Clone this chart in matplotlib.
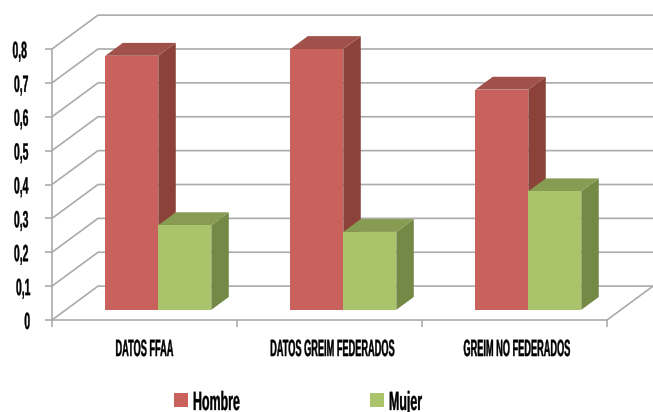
import matplotlib
matplotlib.use('Agg')
import matplotlib.pyplot as plt
from matplotlib.patches import Polygon, Rectangle
from matplotlib.patheffects import AbstractPathEffect
from matplotlib.transforms import Affine2D

categories = ['DATOS FFAA', 'DATOS GREIM FEDERADOS', 'GREIM NO FEDERADOS']
hombre = [0.75, 0.77, 0.65]
mujer = [0.25, 0.23, 0.35]
y_ticks = [0, 0.1, 0.2, 0.3, 0.4, 0.5, 0.6, 0.7, 0.8]
y_labels = ['0', '0,1', '0,2', '0,3', '0,4', '0,5', '0,6', '0,7', '0,8']

RED = ('#C9625D', '#A0524A', '#8C4239')    # front, top, side
GREEN = ('#AAC46B', '#879C52', '#758947')
GRID = '#ABABAB'
FONT = 'Liberation Sans'

# one full step into the chart moves this far right / up, in data units
DEPTH_X = 46 / 185
DEPTH_Y = 0.1
BAR_W = 53 / 185
BAR_D0, BAR_D1 = 0.3, 0.68


class Squeeze(AbstractPathEffect):
    """Narrow a text around a pixel column, with a thin stroke to keep the stems heavy."""
    def __init__(self, anchor, sx, shift=0, stroke=0.25):
        super().__init__()
        self.anchor = anchor
        self.sx = sx
        self.shift = shift
        self.stroke = stroke

    def draw_path(self, renderer, gc, tpath, affine, rgbFace=None):
        squeeze = (Affine2D().translate(-self.anchor, 0).scale(self.sx, 1)
                   .translate(self.anchor + self.shift, 0))
        gc0 = renderer.new_gc()
        gc0.copy_properties(gc)
        gc0.set_linewidth(self.stroke)
        gc0.set_foreground('black')
        renderer.draw_path(gc0, tpath, affine + squeeze, rgbFace)
        gc0.restore()


def proj(x, v, d):
    return (x + d * DEPTH_X, v + d * DEPTH_Y)


def draw_bar(ax, x0, x1, v, colors):
    d0, d1 = BAR_D0, BAR_D1
    side = [proj(x1, 0, d0), proj(x1, 0, d1), proj(x1, v, d1), proj(x1, v, d0)]
    top = [proj(x0, v, d0), proj(x1, v, d0), proj(x1, v, d1), proj(x0, v, d1)]
    front = [proj(x0, 0, d0), proj(x1, 0, d0), proj(x1, v, d0), proj(x0, v, d0)]
    ax.add_patch(Polygon(side, fc=colors[2], ec='none', clip_on=False, zorder=3))
    ax.add_patch(Polygon(top, fc=colors[1], ec='none', clip_on=False, zorder=3))
    ax.add_patch(Polygon(front, fc=colors[0], ec='none', clip_on=False, zorder=3))


W, H = 653, 412
fig = plt.figure(figsize=(W / 100, H / 100), dpi=100)
ax = fig.add_axes([52 / W, (H - 320) / H, 555 / W, 271 / H])
ax.set_xlim(0, 3)
ax.set_ylim(0, 0.8)
ax.patch.set_visible(False)

# side wall and back wall
for v in y_ticks:
    ax.plot(*zip(proj(0, v, 0), proj(0, v, 1), proj(3, v, 1)), color=GRID, lw=1.2,
            clip_on=False, zorder=1, solid_joinstyle='miter')
ax.plot(*zip(proj(3, 0, 0), proj(3, 0, 1)), color=GRID, lw=1.2, clip_on=False, zorder=1)

for i in range(len(categories)):
    mid = i + 0.5
    draw_bar(ax, mid - BAR_W, mid, hombre[i], RED)
    draw_bar(ax, mid, mid + BAR_W, mujer[i], GREEN)

for name in ['top', 'right']:
    ax.spines[name].set_visible(False)
for name in ['left', 'bottom']:
    ax.spines[name].set_color(GRID)
    ax.spines[name].set_linewidth(1.2)

# y labels sit centred on one column so their full text box stays on the canvas
ax.set_yticks(y_ticks)
ax.set_yticklabels(y_labels)
ax.tick_params(axis='y', length=5, width=1.2, color=GRID, pad=17)
nudge = {'0': 6, '0,1': 2, '0,8': -1.5}
for label, text in zip(ax.get_yticklabels(), y_labels):
    label.set(fontsize=17, fontweight='bold', family=FONT, ha='center')
    label.set_path_effects([Squeeze(21, 0.44, nudge.get(text, 0))])

ax.set_xticks([0, 1, 2, 3])
ax.set_xticklabels([])
ax.tick_params(axis='x', which='major', length=5, width=1.2, color=GRID)
ax.set_xticks([0.5, 1.5, 2.5], minor=True)
ax.set_xticklabels(categories, minor=True)
ax.tick_params(axis='x', which='minor', length=0, pad=13)
label_shift = [0, 3, 2.5]
for i, label in enumerate(ax.get_xticklabels(minor=True)):
    label.set(fontsize=17, fontweight='bold', family=FONT)
    cx = ax.transData.transform((i + 0.5, 0))[0]
    label.set_path_effects([Squeeze(cx, 0.39, label_shift[i])])

# legend
for x, color, name in [(174, RED[0], 'Hombre'), (370, GREEN[0], 'Mujer')]:
    fig.add_artist(Rectangle((x / W, (H - 407) / H), 14 / W, 14 / H, fc=color, ec='none',
                             transform=fig.transFigure))
    t = fig.text((x + 19) / W, (H - 410) / H, name, fontsize=19, fontweight='bold',
                 family=FONT, ha='left', va='baseline')
    t.set_path_effects([Squeeze(x + 19, 0.47)])

fig.savefig('out.png', dpi=100)
